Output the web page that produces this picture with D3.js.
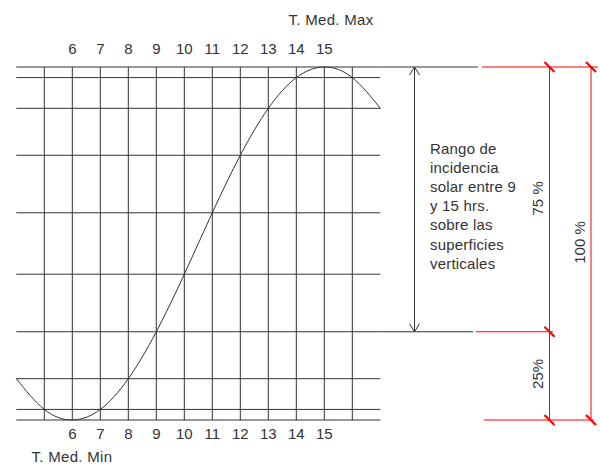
<!DOCTYPE html>
<html><head><meta charset="utf-8">
<script src="https://cdn.jsdelivr.net/npm/d3@7"></script>
<style>body{margin:0;background:#fff}svg{display:block}text{font-family:"Liberation Sans",Arial,sans-serif;fill:#333}</style>
</head><body><svg id="c" width="600" height="464"></svg>
<script>
// Data
const hours = [4,5,6,7,8,9,10,11,12,13,14,15,16,17];
const curveValues = [11.7,3,0,3,11.7,25,41.3,58.7,75,88.3,97,100,97,88.3];
const gridValues = [0,3,11.7,25,41.3,58.7,75,88.3,97,100];
const gridHours = [5,6,7,8,9,10,11,12,13,14,15,16];
const tickLabels = [6,7,8,9,10,11,12,13,14,15];
const topTitle = "T. Med. Max";
const bottomTitle = "T. Med. Min";
const noteLines = ["Rango de","incidencia","solar entre 9","y 15 hrs.","sobre las","superficies","verticales"];
const dimLabels = ["75 %","25%","100 %"];
const dimRanges = [[25,100],[0,25],[0,100]];

const svg = d3.select("#c");
const x = d3.scaleLinear().domain([4,17]).range([16.3,380.3]);
const y = d3.scaleLinear().domain([0,100]).range([420,67]);
const ink = "#333", red = "#ff0000";

// horizontal grid
svg.append("g").selectAll("line").data(gridValues).join("line")
  .attr("x1", x(4)).attr("x2", x(17))
  .attr("y1", d=>y(d)).attr("y2", d=>y(d))
  .attr("stroke", ink).attr("stroke-width", 1);
// vertical grid
svg.append("g").selectAll("line").data(gridHours).join("line")
  .attr("x1", d=>x(d)).attr("x2", d=>x(d))
  .attr("y1", y(100)).attr("y2", y(0))
  .attr("stroke", ink).attr("stroke-width", 1);

// extensions of top and 25% lines
svg.append("line").attr("x1", x(17)).attr("x2", 478).attr("y1", y(100)).attr("y2", y(100)).attr("stroke", ink);
svg.append("line").attr("x1", x(17)).attr("x2", 473).attr("y1", y(25)).attr("y2", y(25)).attr("stroke", ink);

// curve
const line = d3.line().x((d,i)=>x(hours[i])).y(d=>y(d)).curve(d3.curveNatural);
svg.append("path").attr("d", line(curveValues)).attr("fill","none").attr("stroke", ink).attr("stroke-width",1);

// tick labels
svg.append("g").selectAll("text").data(tickLabels).join("text")
  .attr("x", d=>x(d)).attr("y", 53.5).attr("text-anchor","middle").attr("font-size",15).text(d=>d);
svg.append("g").selectAll("text").data(tickLabels).join("text")
  .attr("x", d=>x(d)).attr("y", 438.5).attr("text-anchor","middle").attr("font-size",15).text(d=>d);
svg.append("text").attr("x", 288.5).attr("y", 25).attr("font-size",15).attr("letter-spacing",0.3).text(topTitle);
svg.append("text").attr("x", 31.5).attr("y", 461.5).attr("font-size",15).attr("letter-spacing",0.3).text(bottomTitle);

// arrow
const ax = 414.5;
svg.append("line").attr("x1",ax).attr("x2",ax).attr("y1",y(100)).attr("y2",y(25)).attr("stroke",ink);
svg.append("path").attr("d",`M${ax-5},${y(100)+8}L${ax},${y(100)}L${ax+5},${y(100)+8}`).attr("fill","none").attr("stroke",ink);
svg.append("path").attr("d",`M${ax-5},${y(25)-8}L${ax},${y(25)}L${ax+5},${y(25)-8}`).attr("fill","none").attr("stroke",ink);

// note
svg.append("g").selectAll("text").data(noteLines).join("text")
  .attr("x",430).attr("y",(d,i)=>154+i*19.1).attr("font-size",15).attr("letter-spacing",0.2).text(d=>d);

// red dimensions
const dx1 = 549.5, dx2 = 591;
const g = svg.append("g").attr("stroke", red);
g.append("line").attr("x1",482).attr("x2",598).attr("y1",y(100)).attr("y2",y(100));
g.append("line").attr("x1",476).attr("x2",553).attr("y1",y(25)).attr("y2",y(25));
g.append("line").attr("x1",484).attr("x2",594).attr("y1",y(0)).attr("y2",y(0));
g.append("line").attr("x1",dx1).attr("x2",dx1).attr("y1",y(100)).attr("y2",y(0));
g.append("line").attr("x1",dx2).attr("x2",dx2).attr("y1",y(100)).attr("y2",y(0));
const ticks = [[dx1,100],[dx2,100],[dx1,25],[dx1,0],[dx2,0]];
g.selectAll("path").data(ticks).join("path")
  .attr("d", d=>`M${d[0]-5},${y(d[1])-5}L${d[0]+5},${y(d[1])+5}`).attr("stroke-width",2.2);

// dimension labels
const labelX = [542.5, 543, 585];
dimLabels.forEach((t,i)=>{
  const cy = (y(dimRanges[i][0]) + y(dimRanges[i][1]))/2 + (i===0 ? -1 : i===1 ? -2 : -1);
  svg.append("text").attr("transform",`translate(${labelX[i]},${cy}) rotate(-90)`)
    .attr("text-anchor","middle").attr("font-size",15).text(t);
});
</script></body></html>
